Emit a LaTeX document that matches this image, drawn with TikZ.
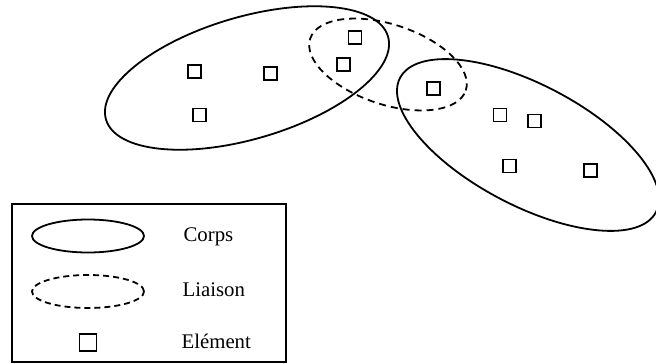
\documentclass[tikz,border=0pt]{standalone}
\usepackage{fontspec}
\setmainfont{Liberation Serif}
\usetikzlibrary{shapes.geometric}
\begin{document}
\begin{tikzpicture}[x=1pt,y=-1pt,
  line width=1.8pt,
  corps/.style={draw,ellipse,inner sep=0pt},
  liaison/.style={draw,ellipse,inner sep=0pt,dash pattern=on 7pt off 5pt},
  elem/.style={draw,rectangle,inner sep=0pt,minimum size=13pt},
  legtext/.style={anchor=base west,inner sep=0pt,font=\fontsize{20.8}{25}\selectfont}]
\useasboundingbox (0,0) rectangle (656,364);

% bodies and the link between them
\node[corps,minimum width=294pt,minimum height=122pt,rotate=16.4] (c1) at (247,78) {};
\node[corps,minimum width=289pt,minimum height=121pt,rotate=-27.7] (c2) at (528,145) {};
\node[liaison,minimum width=164pt,minimum height=80pt,rotate=-18.4] (l1) at (388,64.5) {};

% elements
\node[elem] (e1) at (194.3,71.7) {};
\node[elem] (e2) at (270.3,73.3) {};
\node[elem] (e3) at (199.3,115) {};
\node[elem] (e4) at (355,37.3) {};
\node[elem] (e5) at (343.3,64.3) {};
\node[elem] (e6) at (433.3,88.3) {};
\node[elem] (e7) at (500,115) {};
\node[elem] (e8) at (534.3,121) {};
\node[elem] (e9) at (509.3,166) {};
\node[elem] (e10) at (590.7,170.3) {};

% legend
\node[draw,rectangle,inner sep=0pt,minimum width=274pt,minimum height=158pt,anchor=north west] (leg) at (11,203) {};
\node[corps,minimum width=112pt,minimum height=33pt] (lc) at (88,236) {};
\node[liaison,minimum width=112pt,minimum height=33pt,dash pattern=on 6pt off 4pt] (ll) at (88,291.5) {};
\node[elem,minimum size=17pt] (le) at (88,342.5) {};
\node[legtext] (tc) at (182.7,241.7) {Corps};
\node[legtext] (tl) at (181.7,296) {Liaison};
\node[legtext] (te) at (180.7,348) {Elément};
\end{tikzpicture}
\end{document}
